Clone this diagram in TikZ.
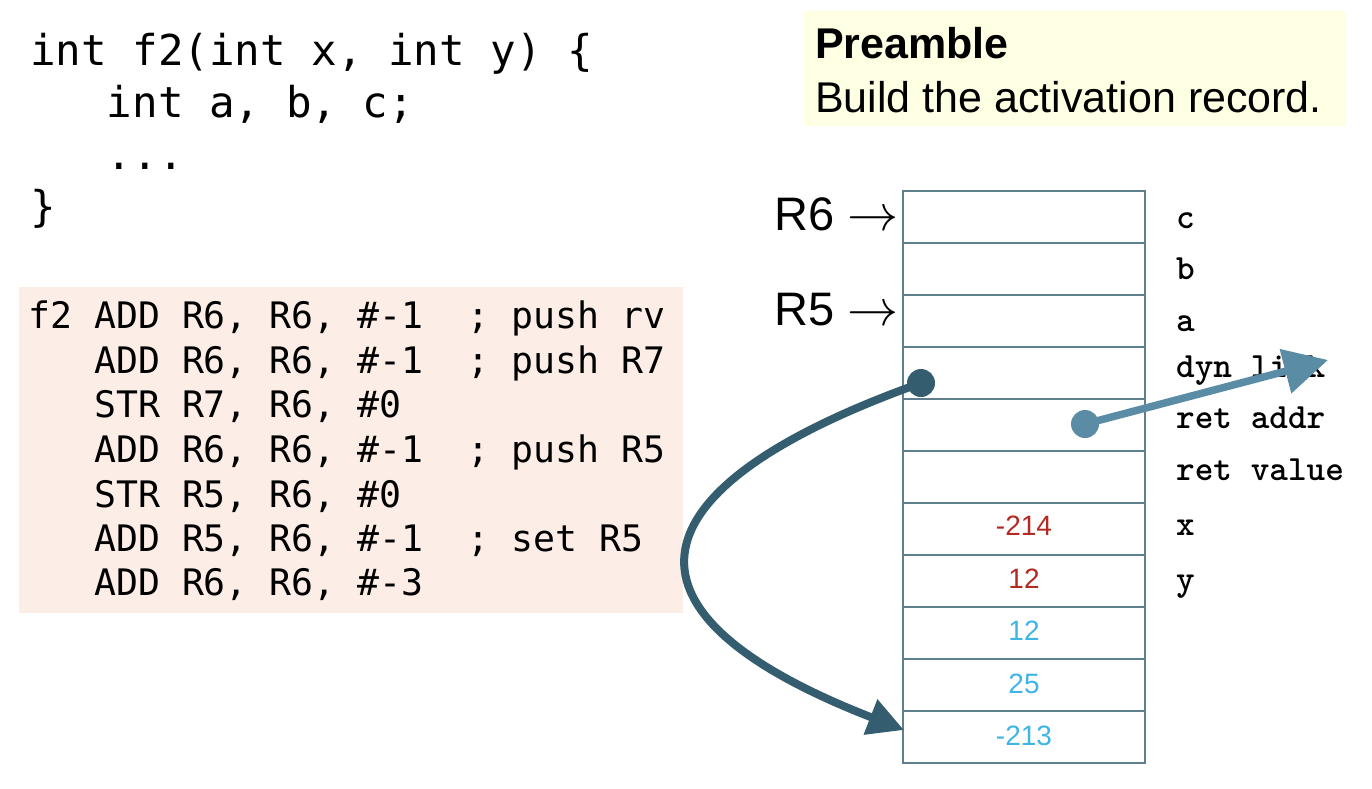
\documentclass[tikz,border=0pt]{standalone}
\usepackage{fontspec}
\usetikzlibrary{arrows.meta}
\newfontfamily\codefont{DejaVu Sans Mono}
\newfontfamily\sansf{Liberation Sans}
\definecolor{codebg}{HTML}{FCEEE7}
\definecolor{notebg}{HTML}{FFFFE3}
\definecolor{gridc}{HTML}{5F7F8C}
\definecolor{darkarrow}{HTML}{345E70}
\definecolor{lightarrow}{HTML}{5B8CA5}
\definecolor{valred}{HTML}{B22A22}
\definecolor{valblue}{HTML}{3DB5E6}
\newcommand{\bigrarrow}{\scalebox{5.1}{\normalsize$\rightarrow$}}
\begin{document}
\begin{tikzpicture}[x=1pt,y=-1pt,
  code/.style={anchor=base west,inner sep=0pt,font=\codefont\fontsize{42.5}{50}\selectfont},
  asm/.style={anchor=base west,inner sep=0pt,font=\codefont\fontsize{36.5}{42}\selectfont},
  cell/.style={draw=gridc,line width=1.5pt,minimum width=242pt,minimum height=52pt,inner sep=0pt},
  lbl/.style={anchor=base west,inner sep=0pt,font=\ttfamily\bfseries\fontsize{35.5}{42}\selectfont},
  val/.style={anchor=base,inner sep=0pt,font=\sansf\fontsize{28}{34}\selectfont},
  reg/.style={anchor=base west,inner sep=0pt,font=\sansf\fontsize{47}{56}\selectfont},
  note/.style={anchor=base west,inner sep=0pt,font=\sansf\fontsize{43}{52}\selectfont},
  dotc/.style={circle,inner sep=0pt,minimum size=28pt},
  link/.style={line width=8pt,-{Triangle[length=36pt,width=36pt]}},
  biglink/.style={line width=7.5pt,-{Triangle[length=44pt,width=44pt]}}]
\useasboundingbox (0,0) rectangle (1372,788);
% backgrounds
\fill[codebg] (19,287) rectangle (683,613);
\fill[notebg] (804,11) rectangle (1346,126);
% C source
\node[code] (c1) at (30,65) {int f2(int x, int y) \{};
\node[code] (c2) at (30,117) {~~~int a, b, c;};
\node[code] (c3) at (30,169) {~~~...};
\node[code] (c4) at (30,221) {\}};
% assembly
\node[asm] (a1) at (28,328) {f2 ADD R6, R6, \#-1~~; push rv};
\node[asm] (a2) at (28,373) {~~~ADD R6, R6, \#-1~~; push R7};
\node[asm] (a3) at (28,417) {~~~STR R7, R6, \#0};
\node[asm] (a4) at (28,462) {~~~ADD R6, R6, \#-1~~; push R5};
\node[asm] (a5) at (28,507) {~~~STR R5, R6, \#0};
\node[asm] (a6) at (28,551) {~~~ADD R5, R6, \#-1~~; set R5};
\node[asm] (a7) at (28,595) {~~~ADD R6, R6, \#-3};
% note
\node[note] (n1) at (815,58) {\bfseries Preamble};
\node[note] (n2) at (815,112) {Build the activation record.};
% stack cells
\foreach \i in {1,...,11}{
  \node[cell] (s\i) at (1024,{191+52*(\i-0.5)}) {};
}
% values
\node[val,text=valred]  (v1) at (1024,535) {-214};
\node[val,text=valred]  (v2) at (1024,588) {12};
\node[val,text=valblue] (v3) at (1024,640) {12};
\node[val,text=valblue] (v4) at (1024,693) {25};
\node[val,text=valblue] (v5) at (1024,745) {-213};
% registers
\node[reg] (r6) at (774,230) {R6 \bigrarrow};
\node[reg] (r5) at (774,325) {R5 \bigrarrow};
% labels
\node[lbl] (l1) at (1176,228) {c};
\node[lbl] (l2) at (1176,279) {b};
\node[lbl] (l3) at (1176,331) {a};
\node[lbl] (l4) at (1176,377) {dyn link};
\node[lbl] (l5) at (1176,428) {ret addr};
\node[lbl] (l6) at (1176,480) {ret value};
\node[lbl] (l7) at (1176,535) {x};
\node[lbl] (l8) at (1176,590) {y};
% pointers
\node[dotc,fill=darkarrow] (d1) at (921,383) {};
\node[dotc,fill=lightarrow] (d2) at (1085,424) {};
\coordinate (t1) at (904,730);
\coordinate (t2) at (1328,360);
\draw[link,darkarrow] (d1.center) .. controls (635,485) and (595,610) .. (t1);
\draw[biglink,lightarrow] (d2.center) -- (t2);
\end{tikzpicture}
\end{document}
